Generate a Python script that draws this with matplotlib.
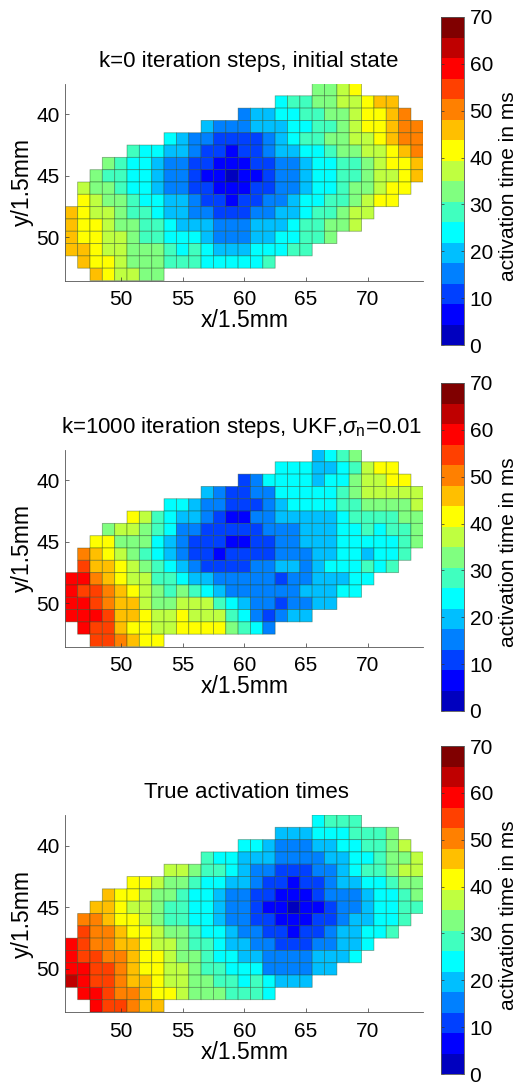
import numpy as np
import matplotlib
matplotlib.use("Agg")
import matplotlib.pyplot as plt
from matplotlib.colors import ListedColormap, Normalize
from matplotlib.cm import ScalarMappable

plt.rcParams['font.family'] = ['Liberation Sans', 'DejaVu Sans']
plt.rcParams['mathtext.fontset'] = 'custom'
plt.rcParams['mathtext.rm'] = 'Liberation Sans'
plt.rcParams['mathtext.it'] = 'Liberation Sans:italic'

# first x index of every row, rows are y = 38 ... 53
row_first_x = [66, 63, 60, 57, 54, 51, 49, 48, 47, 47, 46, 46, 46, 46, 47, 48]

initial_times = [
    [33, 33, 37, 42],
    [24, 28, 28, 33, 33, 37, 37, 42, 46, 46],
    [15, 20, 20, 24, 24, 28, 28, 33, 33, 37, 42, 42, 46, 50],
    [20, 15, 15, 15, 20, 20, 20, 24, 24, 28, 28, 33, 37, 42, 42, 46, 50, 50],
    [24, 20, 15, 15, 11, 11, 11, 11, 15, 20, 24, 28, 28, 33, 33, 37, 37, 42, 46, 50, 50],
    [28, 24, 24, 20, 20, 15, 11, 11, 7, 11, 11, 15, 20, 20, 24, 24, 28, 33, 33, 37, 37, 42, 46, 50],
    [33, 28, 24, 24, 20, 15, 15, 11, 11, 7, 7, 7, 11, 11, 15, 15, 20, 24, 24, 28, 28, 33, 37, 42, 42, 46],
    [33, 28, 28, 24, 24, 20, 15, 15, 11, 7, 7, 2, 7, 7, 11, 15, 15, 20, 24, 24, 28, 28, 33, 37, 37, 42, 46],
    [37, 33, 33, 28, 24, 24, 20, 15, 15, 11, 11, 7, 7, 7, 11, 11, 15, 15, 20, 24, 24, 28, 33, 33, 37, 42, 42],
    [42, 37, 33, 33, 28, 24, 24, 20, 20, 15, 11, 11, 7, 11, 11, 15, 15, 20, 24, 24, 28, 28, 33, 37, 42, 42],
    [46, 42, 37, 37, 33, 28, 28, 24, 20, 20, 15, 15, 11, 11, 11, 15, 15, 20, 20, 24, 28, 28, 33, 37, 37],
    [46, 42, 42, 37, 33, 33, 28, 28, 24, 20, 20, 20, 15, 15, 15, 20, 20, 20, 24, 28, 28, 33, 33, 37],
    [46, 42, 42, 37, 37, 33, 28, 28, 24, 24, 24, 20, 15, 15, 15, 20, 20, 24, 24, 28, 28, 33],
    [46, 46, 42, 37, 37, 33, 33, 33, 28, 24, 28, 24, 20, 20, 20, 24, 24, 24, 28, 28],
    [46, 42, 42, 37, 33, 33, 33, 28, 28, 28, 24, 24, 24, 24, 24, 28],
    [46, 42, 37, 37, 33, 33],
]

ukf_times = [
    [20, 24, 28, 33],
    [24, 24, 24, 20, 20, 24, 28, 37, 42, 42],
    [11, 15, 24, 24, 24, 24, 20, 24, 24, 33, 37, 37, 42, 42],
    [20, 15, 11, 11, 15, 15, 24, 24, 24, 24, 24, 28, 33, 37, 37, 37, 37, 37],
    [24, 24, 20, 15, 15, 11, 11, 11, 15, 20, 24, 24, 24, 24, 28, 28, 33, 33, 33, 33, 37],
    [42, 37, 28, 24, 20, 20, 15, 11, 7, 7, 15, 15, 20, 20, 20, 20, 20, 24, 28, 28, 28, 28, 33, 33],
    [33, 37, 37, 33, 28, 24, 15, 15, 11, 11, 11, 11, 11, 15, 15, 15, 20, 20, 20, 24, 24, 28, 24, 28, 28, 33],
    [42, 42, 33, 33, 33, 24, 20, 15, 11, 11, 11, 7, 7, 11, 11, 15, 15, 20, 20, 20, 24, 24, 24, 24, 24, 28, 33],
    [50, 46, 42, 37, 33, 28, 24, 20, 15, 11, 11, 7, 11, 11, 11, 11, 15, 15, 15, 20, 20, 24, 24, 20, 24, 24, 28],
    [55, 46, 46, 42, 37, 33, 28, 24, 20, 15, 11, 11, 11, 11, 15, 15, 20, 20, 15, 20, 24, 24, 24, 28, 24, 28],
    [59, 59, 50, 46, 42, 37, 37, 28, 28, 24, 20, 20, 15, 15, 15, 15, 15, 11, 15, 15, 20, 20, 20, 24, 24],
    [59, 55, 55, 50, 46, 42, 37, 33, 28, 33, 28, 24, 20, 15, 15, 15, 15, 15, 15, 20, 20, 20, 24, 24],
    [59, 59, 55, 50, 46, 46, 37, 33, 33, 37, 37, 37, 28, 24, 20, 15, 15, 11, 15, 15, 20, 20],
    [59, 59, 59, 55, 46, 46, 42, 37, 37, 42, 37, 37, 37, 28, 24, 15, 11, 15, 20, 20],
    [59, 55, 55, 46, 42, 42, 37, 37, 42, 42, 42, 42, 33, 28, 24, 15],
    [55, 55, 50, 46, 42, 42],
]

true_times = [
    [24, 28, 28, 28],
    [20, 20, 20, 24, 24, 24, 28, 28, 28, 33],
    [24, 24, 20, 15, 15, 15, 20, 20, 24, 24, 28, 28, 33, 37],
    [28, 24, 24, 20, 20, 20, 15, 15, 15, 15, 20, 20, 24, 24, 28, 33, 33, 37],
    [37, 37, 33, 28, 28, 24, 20, 15, 15, 11, 11, 11, 15, 15, 20, 24, 28, 28, 33, 37, 37],
    [42, 42, 37, 33, 33, 28, 24, 24, 20, 20, 15, 11, 11, 7, 11, 11, 15, 20, 20, 24, 24, 28, 33, 33],
    [46, 42, 42, 37, 33, 33, 28, 24, 24, 20, 15, 15, 11, 11, 7, 7, 7, 11, 15, 15, 15, 20, 24, 24, 28, 33],
    [46, 46, 42, 37, 37, 33, 28, 28, 24, 24, 20, 15, 15, 11, 7, 7, 2, 7, 7, 11, 15, 15, 20, 24, 24, 28, 28],
    [50, 50, 46, 42, 42, 37, 33, 28, 28, 24, 24, 20, 15, 15, 11, 11, 7, 7, 7, 11, 11, 15, 20, 20, 24, 24, 28],
    [55, 50, 50, 46, 42, 42, 37, 33, 33, 28, 24, 24, 20, 15, 15, 11, 11, 7, 11, 11, 15, 20, 20, 24, 24, 28],
    [59, 55, 50, 50, 46, 46, 42, 37, 37, 33, 28, 28, 24, 20, 20, 15, 15, 11, 11, 11, 15, 15, 20, 20, 24],
    [59, 55, 55, 50, 50, 46, 42, 42, 37, 33, 33, 28, 24, 24, 20, 20, 15, 15, 15, 15, 20, 20, 20, 24],
    [59, 59, 55, 55, 50, 46, 42, 42, 37, 37, 33, 28, 28, 24, 24, 24, 15, 15, 15, 15, 20, 20],
    [63, 59, 55, 55, 50, 46, 46, 42, 37, 37, 33, 33, 28, 28, 24, 28, 24, 20, 20, 20],
    [59, 59, 55, 50, 50, 46, 42, 42, 37, 33, 33, 33, 28, 28, 28, 24],
    [59, 55, 55, 50, 46, 46],
]

panel_titles = [
    'k=0 iteration steps, initial state',
    r'k=1000 iteration steps, UKF,$\sigma_{\mathrm{n}}$=0.01',
    'True activation times',
]
x_ticks = [50, 55, 60, 65, 70]
y_ticks = [40, 45, 50]
cbar_ticks = [0, 10, 20, 30, 40, 50, 60, 70]

# matlab jet(16)
jet16 = [(0, 0, .75), (0, 0, 1), (0, .25, 1), (0, .5, 1), (0, .75, 1), (0, 1, 1),
         (.25, 1, .75), (.5, 1, .5), (.75, 1, .25), (1, 1, 0), (1, .75, 0), (1, .5, 0),
         (1, .25, 0), (1, 0, 0), (.75, 0, 0), (.5, 0, 0)]
cmap = ListedColormap(jet16)
norm = Normalize(0, 70)

W, H = 517, 1084


def px_axes(fig, left, top, right, bottom):
    return fig.add_axes([left / W, 1 - bottom / H, (right - left) / W, (bottom - top) / H])


def make_grid(times):
    grid = np.full((16, 29), np.nan)
    for i, row in enumerate(times):
        start = row_first_x[i] - 46
        grid[i, start:start + len(row)] = row
    return np.ma.masked_invalid(grid)


fig = plt.figure(figsize=(W / 100, H / 100), dpi=100)

panel_data = [initial_times, ukf_times, true_times]
panel_tops = [83.5, 449.5, 815]
bar_tops = [17, 383, 746]
title_x = [248.5, 241.5, 246]

for times, title, top, bar_top, tx in zip(panel_data, panel_titles, panel_tops, bar_tops, title_x):
    ax = px_axes(fig, 65.3, top, 423.3, top + 197)
    x_edges = np.arange(45.5, 75.5)
    y_edges = np.arange(37.5, 54.5)
    # pcolor leaves masked cells out, pcolormesh would still stroke them
    ax.pcolor(x_edges, y_edges, make_grid(times), cmap=cmap, norm=norm,
              edgecolors=(0.1, 0.25, 0.1, 0.42), linewidth=0.6)
    ax.set_xlim(45.5, 74.5)
    ax.set_ylim(53.5, 37.5)
    ax.set_xticks(x_ticks)
    ax.set_yticks(y_ticks)
    ax.tick_params(direction='in', length=3, width=0.5, labelsize=15, color='#333333')
    ax.tick_params(axis='x', pad=7)
    ax.tick_params(axis='y', pad=4)
    ax.spines['top'].set_visible(False)
    ax.spines['right'].set_visible(False)
    ax.spines['left'].set_linewidth(0.6)
    ax.spines['bottom'].set_linewidth(0.6)
    ax.spines['left'].set_color('#555555')
    ax.spines['bottom'].set_color('#555555')
    ax.set_xlabel('x/1.5mm', fontsize=16.5, labelpad=0)
    ax.set_ylabel('y/1.5mm', fontsize=16.5, labelpad=2)
    fig.text(tx / W, 1 - (top - 17) / H, title, fontsize=16, ha='center', va='baseline')

    cax = px_axes(fig, 441, bar_top, 464, bar_top + 328)
    cb = fig.colorbar(ScalarMappable(norm=norm, cmap=cmap), cax=cax)
    cb.set_ticks(cbar_ticks)
    cb.ax.tick_params(direction='in', length=2.5, width=0.5, labelsize=15, pad=4, left=True, right=True,
                      color='#333333')
    cb.outline.set_linewidth(0.6)
    cb.outline.set_edgecolor('#555555')
    cb.set_label('activation time in ms', fontsize=15)
    cb.ax.yaxis.set_label_coords(2.5, 0.485)

fig.savefig('out.png', dpi=100)
